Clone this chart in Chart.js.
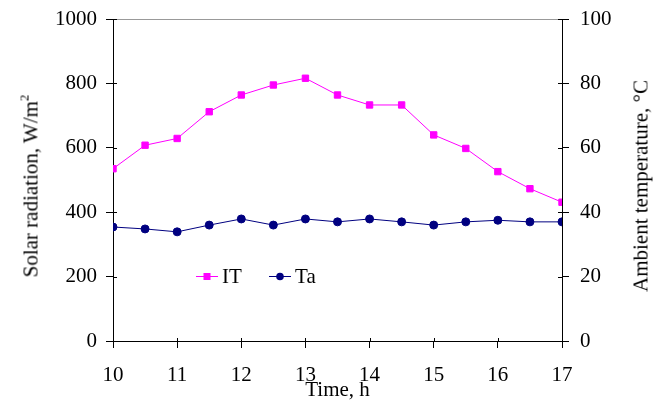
<!DOCTYPE html>
<html>
<head>
<meta charset="utf-8">
<script src="https://cdn.jsdelivr.net/npm/chart.js@4"></script>
<style>
  body { margin: 0; background: #fff; }
  #wrap { position: relative; width: 662px; height: 403px; font-family: "Liberation Serif", "Times New Roman", serif; }
  .vtitle {
    position: absolute; top: 186px;
    transform: translate(-50%, -50%) rotate(-90deg);
    white-space: nowrap; font-size: 21px; color: #000; line-height: 1;
  }
  .vtitle sup { font-size: 13px; vertical-align: 9px; line-height: 0; }
  #leftTitle { left: 31px; }
  #rightTitle { left: 641px; }
  #legend { position: absolute; left: 196px; top: 263px; font-size: 21px; color: #000; white-space: nowrap; line-height: 24px; }
  #legend span.item { display: inline-flex; align-items: center; margin-right: 22px; }
  #legend canvas { margin-right: 4px; }
</style>
</head>
<body>
<div id="wrap">
  <canvas id="solarChart" width="662" height="403"></canvas>
  <div id="leftTitle" class="vtitle">Solar radiation, W/m<sup>2</sup></div>
  <div id="rightTitle" class="vtitle">Ambient temperature, °C</div>
  <div id="legend">
    <span class="item"><canvas id="lgIT" width="22" height="12"></canvas>IT</span>
    <span class="item"><canvas id="lgTa" width="22" height="12"></canvas>Ta</span>
  </div>
</div>
<script>
// time of day, h
var hours = [10, 10.5, 11, 11.5, 12, 12.5, 13, 13.5, 14, 14.5, 15, 15.5, 16, 16.5, 17];
// solar radiation IT, W/m2
var radiation = [535, 608, 629, 712, 764, 795, 816, 764, 733, 733, 640, 598, 526, 473, 431];
// ambient temperature Ta, C
var ambient = [35.4, 34.8, 33.9, 36.0, 37.9, 36.0, 37.9, 37.0, 37.9, 37.0, 36.0, 37.0, 37.5, 37.0, 37.0];

var itColor = '#ff00ff';
var taColor = '#000080';
var tickFont = { family: '"Liberation Serif", "Times New Roman", serif', size: 21 };

function pairs(xs, ys) {
    return xs.map(function (x, i) { return { x: x, y: ys[i] }; });
}
function plain(v) { return String(v); }

// little legend swatches
function swatch(id, color, shape) {
    var c = document.getElementById(id).getContext('2d');
    c.strokeStyle = color; c.fillStyle = color; c.lineWidth = 1;
    c.beginPath(); c.moveTo(0, 6.5); c.lineTo(22, 6.5); c.stroke();
    if (shape === 'rect') {
        c.fillRect(7.5, 3, 7, 7);
    } else {
        c.beginPath(); c.arc(11, 6.5, 3.8, 0, Math.PI * 2); c.fill();
    }
}
swatch('lgIT', itColor, 'rect');
swatch('lgTa', taColor, 'circle');

// short stubs of the tick marks inside the plot, like the original
var innerTicks = {
    id: 'innerTicks',
    afterDraw: function (chart) {
        var c = chart.ctx, s = chart.scales, a = chart.chartArea;
        c.save();
        c.strokeStyle = '#000';
        c.lineWidth = 1;
        c.beginPath();
        s.x.ticks.forEach(function (t) {
            var px = Math.round(s.x.getPixelForValue(t.value)) + 0.5;
            c.moveTo(px, a.bottom); c.lineTo(px, a.bottom - 3);
        });
        s.y.ticks.forEach(function (t) {
            var py = Math.round(s.y.getPixelForValue(t.value)) + 0.5;
            c.moveTo(a.left, py); c.lineTo(a.left + 4, py);
        });
        s.y1.ticks.forEach(function (t) {
            var py = Math.round(s.y1.getPixelForValue(t.value)) + 0.5;
            c.moveTo(a.right, py); c.lineTo(a.right - 4, py);
        });
        c.stroke();
        c.restore();
    }
};

function sideFit(w) {
    return function (axis) {
        axis.width = w;
        axis.paddingTop = 0;
        axis.paddingBottom = 0;
    };
}

var ctx = document.getElementById('solarChart').getContext('2d');
var solarChart = new Chart(ctx, {
    type: 'line',
    data: {
        datasets: [{
            label: 'IT',
            data: pairs(hours, radiation),
            borderColor: itColor,
            backgroundColor: itColor,
            borderWidth: 1,
            pointStyle: 'rect',
            pointRadius: 4.5,
            yAxisID: 'y'
        }, {
            label: 'Ta',
            data: pairs(hours, ambient),
            borderColor: taColor,
            backgroundColor: taColor,
            borderWidth: 1,
            pointStyle: 'circle',
            pointRadius: 4,
            yAxisID: 'y1'
        }]
    },
    options: {
        responsive: false,
        animation: false,
        layout: { padding: { top: 19, right: 0, left: 0, bottom: 0 } },
        plugins: {
            legend: { display: false },
            tooltip: { enabled: false }
        },
        scales: {
            x: {
                type: 'linear',
                min: 10,
                max: 17,
                ticks: { stepSize: 1, color: '#000', font: tickFont, padding: 15, callback: plain },
                grid: { drawOnChartArea: false, color: '#000', tickLength: 7 },
                border: { color: '#000', width: 1 },
                title: { display: true, text: 'Time, h', color: '#000', font: tickFont, padding: { top: 0, bottom: 0 } },
                afterFit: function (axis) { axis.height = 62; }
            },
            xTop: {
                type: 'linear',
                position: 'top',
                min: 10,
                max: 17,
                ticks: { display: false },
                grid: { display: false },
                border: { color: '#999', width: 1 },
                afterFit: function (axis) { axis.height = 0; }
            },
            y: {
                position: 'left',
                min: 0,
                max: 1000,
                ticks: { stepSize: 200, color: '#000', font: tickFont, padding: 9, callback: plain },
                grid: { drawOnChartArea: false, color: '#000', tickLength: 7 },
                border: { color: '#000', width: 1 },
                afterFit: sideFit(113)
            },
            y1: {
                position: 'right',
                min: 0,
                max: 100,
                ticks: { stepSize: 20, color: '#000', font: tickFont, padding: 11, callback: plain },
                grid: { drawOnChartArea: false, color: '#000', tickLength: 7 },
                border: { color: '#000', width: 1 },
                afterFit: sideFit(100)
            }
        }
    },
    plugins: [innerTicks]
});
</script>
</body>
</html>
